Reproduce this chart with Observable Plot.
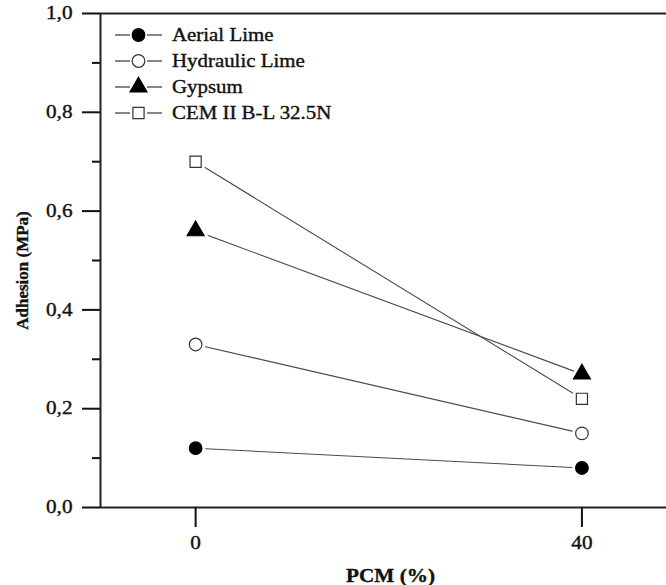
<!DOCTYPE html>
<html><head><meta charset="utf-8">
<script src="https://cdn.jsdelivr.net/npm/d3@7"></script>
<script src="https://cdn.jsdelivr.net/npm/@observablehq/plot@0.6"></script>
<style>
html,body{margin:0;padding:0;background:#fff;overflow:hidden;}
#wrap{position:relative;width:666px;height:585px;overflow:hidden;}
#legend{position:absolute;left:0;top:0;font-family:"Liberation Serif";font-size:18px;color:#111;-webkit-text-stroke:0.35px #111;}
svg text{stroke:#111;stroke-width:0.35px;}
</style></head><body><div id="wrap"></div>
<script>
// ---- data ----
const series = ["Aerial Lime", "Hydraulic Lime", "Gypsum", "CEM II B-L 32.5N"];
const pcm = [0, 40];
const aerialLime = [0.12, 0.08];
const hydraulicLime = [0.33, 0.15];
const gypsum = [0.56, 0.27];
const cem = [0.70, 0.22];
const xTicks = [0, 40];
const xTickLabels = ["0", "40"];
const yTicks = [0, 0.2, 0.4, 0.6, 0.8, 1.0];
const yTickLabels = ["0,0", "0,2", "0,4", "0,6", "0,8", "1,0"];
const yMinorTicks = [0.1, 0.3, 0.5, 0.7, 0.9];
const xLabel = "PCM (%)";
const yLabel = "Adhesion (MPa)";
const xDomain = [-9.85, 50];
const yDomain = [0, 1];

// ---- styles ----
const values = [aerialLime, hydraulicLime, gypsum, cem];
const symbolNames = ["circle", "circle", "triangle", "square"];
const d3Symbols = [d3.symbolCircle, d3.symbolCircle, d3.symbolTriangle, d3.symbolSquare];
const fills = ["#000", "#fff", "#000", "#fff"];
const strokes = ["#000", "#333", "#000", "#333"];
const R = 6.3;
const font = "Liberation Serif";

const rows = series.flatMap((s, i) => pcm.map((x, j) => ({
  series: s, x, y: values[i][j], symbol: symbolNames[i], fill: fills[i], stroke: strokes[i]
})));

const chart = Plot.plot({
  width: 666, height: 585,
  marginLeft: 100, marginRight: 0, marginTop: 13, marginBottom: 78,
  style: {fontFamily: font, fontSize: "18px", color: "#111", background: "#fff", overflow: "hidden"},
  x: {domain: xDomain, range: [100, 678], axis: null, label: null},
  y: {domain: yDomain, axis: null, label: null},
  marks: [
    Plot.line(rows, {x: "x", y: "y", z: "series", stroke: "#4a4a4a", strokeWidth: 1.1}),
    Plot.dot(rows, {x: "x", y: "y", symbol: "symbol", r: R, fill: "#fff", stroke: "#fff", strokeWidth: 7}),
    Plot.dot(rows, {x: "x", y: "y", symbol: "symbol", r: R, fill: "fill", stroke: "stroke", strokeWidth: 1.2}),
    Plot.ruleY([yDomain[0]], {stroke: "#222", strokeWidth: 2}),
    Plot.ruleY([yDomain[1]], {stroke: "#222", strokeWidth: 2}),
    Plot.ruleX([xDomain[0]], {stroke: "#222", strokeWidth: 2}),
    Plot.axisY({ticks: yTicks, anchor: "left", tickSize: 18, tickPadding: 10, label: null,
      tickFormat: d => yTickLabels[yTicks.indexOf(d)], strokeWidth: 2, color: "#111", fontSize: 18, fontFamily: font}),
    Plot.axisY({ticks: yMinorTicks, anchor: "left", tickSize: 8, label: null,
      tickFormat: () => "", strokeWidth: 2, color: "#111"}),
    Plot.axisX({ticks: xTicks, anchor: "bottom", tickSize: 20, tickPadding: 9, label: null,
      tickFormat: d => xTickLabels[xTicks.indexOf(d)], strokeWidth: 2, color: "#111", fontSize: 18, fontFamily: font}),
    Plot.text([yLabel], {frameAnchor: "left", dx: -78, dy: 10, rotate: -90, textAnchor: "middle", lineAnchor: "middle",
      fontWeight: "bold", fontSize: 17, fontFamily: font, fill: "#111"}),
    Plot.text([xLabel], {frameAnchor: "bottom", dx: 7, dy: 69, textAnchor: "middle", lineAnchor: "middle",
      fontWeight: "bold", fontSize: 18, fontFamily: font, fill: "#111"})
  ]
});

// horizontal stretch of text to match the reference's wide letterforms
chart.querySelectorAll("text").forEach(t => {
  if (t.textContent === yLabel) return;
  const tr = t.getAttribute("transform");
  if (tr && !tr.includes("rotate")) t.setAttribute("transform", tr + " scale(1.18,1)");
});

const wrap = document.getElementById("wrap");
wrap.appendChild(chart);

// legend inside plot area
const legend = document.createElement("div");
legend.id = "legend";
series.forEach((s, i) => {
  const row = document.createElement("div");
  row.style.cssText = `position:absolute;left:115px;top:${22 + i * 26}px;height:26px;display:flex;align-items:center;white-space:nowrap;`;
  const sv = d3.create("svg").attr("width", 57).attr("height", 26).style("display", "block");
  sv.append("line").attr("x1", 0).attr("x2", 15).attr("y1", 13).attr("y2", 13).attr("stroke", "#333").attr("stroke-width", 1.2);
  sv.append("line").attr("x1", 32).attr("x2", 47).attr("y1", 13).attr("y2", 13).attr("stroke", "#333").attr("stroke-width", 1.2);
  sv.append("path").attr("d", d3.symbol(d3Symbols[i], R * R * Math.PI)())
    .attr("transform", "translate(23.5,13)").attr("fill", fills[i]).attr("stroke", strokes[i]).attr("stroke-width", 1.2);
  row.appendChild(sv.node());
  const span = document.createElement("span");
  span.textContent = s;
  span.style.cssText = "display:inline-block;transform:scaleX(1.16);transform-origin:left center;line-height:26px;";
  row.appendChild(span);
  legend.appendChild(row);
});
wrap.appendChild(legend);
</script></body></html>
